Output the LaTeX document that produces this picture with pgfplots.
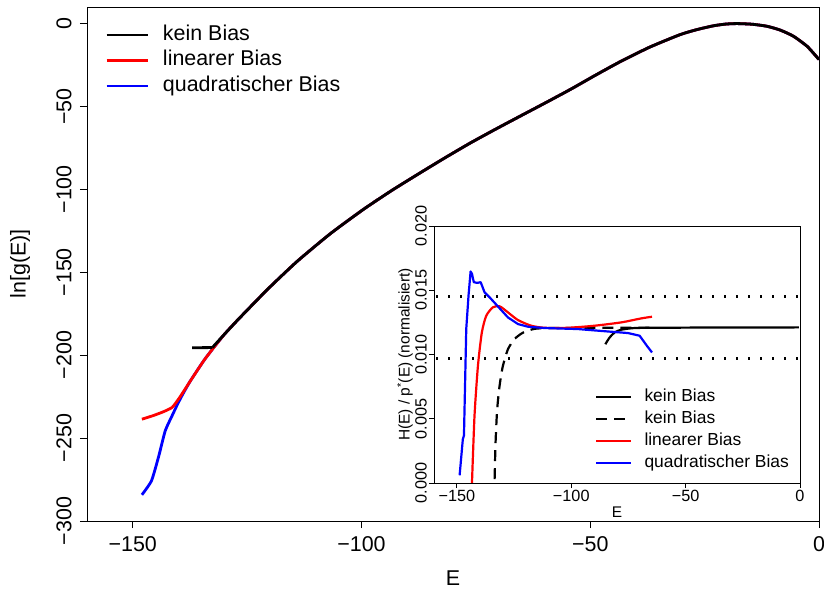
\documentclass[border=0pt]{standalone}
\usepackage{fontspec}
\setmainfont{Liberation Sans}
\usepackage{pgfplots}
\pgfplotsset{compat=1.18}
\definecolor{rred}{RGB}{255,0,0}
\definecolor{rblue}{RGB}{0,0,255}
\newcommand\mainfs{\fontsize{21.5}{25}\selectfont}
\newcommand\insetfs{\fontsize{16.3}{19}\selectfont}
\newcommand\inlegfs{\fontsize{17.5}{20}\selectfont}
\newcommand\inlabfs{\fontsize{15.5}{18}\selectfont}

\begin{document}
\begin{tikzpicture}
\path[use as bounding box] (-87bp,-74bp) rectangle (737bp,521bp);
\begin{axis}[
  at={(0bp,0bp)}, anchor=south west,
  scale only axis, width=732bp, height=514bp,
  xmin=-160, xmax=0, ymin=-300, ymax=10,
  tick align=outside, xtick pos=left, ytick pos=left,
  major tick length=7bp,
  every tick/.style={black, line width=0.9bp},
  axis line style={line width=0.9bp},
  xtick={-150,-100,-50,0}, xticklabels={−150,−100,−50,0},
  ytick={-300,-250,-200,-150,-100,-50,0},
  yticklabels={−300,−250,−200,−150,−100,−50,0},
  ticklabel style={font=\mainfs},
  xticklabel style={yshift=-5bp},
  yticklabel style={rotate=90, anchor=south, yshift=5bp},
  xlabel={E}, ylabel={ln[g(E)]},
  label style={font=\mainfs},
  xlabel style={at={([yshift=-57bp]axis description cs:0.5,0)}, anchor=center},
  ylabel style={at={([xshift=-67bp]axis description cs:0,0.5)}, anchor=center},
  legend cell align=left,
  legend image code/.code={\draw[#1] (0bp,0bp) -- (41bp,0bp);},
  legend style={at={([xshift=18bp,yshift=-15bp]axis description cs:0,1)}, anchor=north west,
    draw=none, fill=none, font=\mainfs, inner xsep=0bp, inner ysep=0bp,
    row sep=0bp, nodes={inner sep=2.5bp, text height=15.5bp, text depth=5bp},
    /tikz/every odd column/.append style={column sep=11.5bp}},
]
\addlegendimage{black, line width=2.8bp}\addlegendentry{kein Bias}
\addlegendimage{rred, line width=2.8bp}\addlegendentry{linearer Bias}
\addlegendimage{rblue, line width=2.8bp}\addlegendentry{quadratischer Bias}
% quadratischer Bias
\addplot[forget plot, rblue, line width=2.8bp, line join=round, smooth, tension=0.35] coordinates {
(-148.0,-284.2) (-145.9,-275.7) (-144.3,-260.7) (-142.9,-245.6) (-141.4,-236.5)
(-140.2,-229.5) (-139.0,-223.2) (-137.4,-215.5) (-134.5,-203.4) (-132.3,-195.4)
(-130.0,-187.5) (-126.9,-178.3) (-120.5,-160.2) (-114.1,-143.5) (-106.8,-126.7)
(-99.5,-111.9) (-93.3,-100.5) (-87.1,-89.9) (-81.6,-80.7) (-76.2,-72.0)
(-70.7,-63.7) (-65.3,-55.8) (-59.8,-47.8) (-54.4,-39.8) (-48.9,-31.2)
(-43.4,-22.9) (-37.0,-14.2) (-30.3,-6.6) (-26.5,-3.5) (-23.0,-1.3) (-20.4,-0.3)
(-17.9,0.0) (-14.6,-0.4) (-11.4,-1.6) (-8.5,-3.9) (-5.6,-7.6) (-2.6,-13.7) (0,-21.7)};
% linearer Bias
\addplot[forget plot, rred, line width=2.8bp, line join=round, smooth, tension=0.35] coordinates {
(-148.0,-238.6) (-145.5,-236.4) (-143.3,-234.1) (-141.4,-231.5) (-140.0,-226.5)
(-138.8,-221.5) (-137.4,-215.5) (-134.5,-203.4) (-132.3,-195.4)
(-130.0,-187.5) (-126.9,-178.3) (-120.5,-160.2) (-114.1,-143.5) (-106.8,-126.7)
(-99.5,-111.9) (-93.3,-100.5) (-87.1,-89.9) (-81.6,-80.7) (-76.2,-72.0)
(-70.7,-63.7) (-65.3,-55.8) (-59.8,-47.8) (-54.4,-39.8) (-48.9,-31.2)
(-43.4,-22.9) (-37.0,-14.2) (-30.3,-6.6) (-26.5,-3.5) (-23.0,-1.3) (-20.4,-0.3)
(-17.9,0.0) (-14.6,-0.4) (-11.4,-1.6) (-8.5,-3.9) (-5.6,-7.6) (-2.6,-13.7) (0,-21.7)};
% kein Bias
\addplot[forget plot, black, line width=2.8bp, line join=round] coordinates {
(-137.0,-195.5) (-132.6,-195.4)};
\addplot[forget plot, black, line width=2.8bp, line join=round, smooth, tension=0.35] coordinates {
(-132.6,-195.4)
(-130.0,-187.5) (-126.9,-178.3) (-120.5,-160.2) (-114.1,-143.5) (-106.8,-126.7)
(-99.5,-111.9) (-93.3,-100.5) (-87.1,-89.9) (-81.6,-80.7) (-76.2,-72.0)
(-70.7,-63.7) (-65.3,-55.8) (-59.8,-47.8) (-54.4,-39.8) (-48.9,-31.2)
(-43.4,-22.9) (-37.0,-14.2) (-30.3,-6.6) (-26.5,-3.5) (-23.0,-1.3) (-20.4,-0.3)
(-17.9,0.0) (-14.6,-0.4) (-11.4,-1.6) (-8.5,-3.9) (-5.6,-7.6) (-2.6,-13.7) (0,-21.7)};
\end{axis}

\begin{axis}[
  at={(347bp,38bp)}, anchor=south west,
  scale only axis, width=366bp, height=257bp,
  xmin=-160, xmax=0, ymin=0, ymax=0.02,
  tick align=outside, xtick pos=left, ytick pos=left,
  major tick length=5bp,
  every tick/.style={black, line width=0.9bp},
  axis line style={line width=0.9bp},
  xtick={-150,-100,-50,0}, xticklabels={−150,−100,−50,0},
  ytick={0,0.005,0.01,0.015,0.02},
  yticklabels={0.000,0.005,0.010,0.015,0.020},
  scaled y ticks=false,
  ticklabel style={font=\insetfs},
  xticklabel style={inner sep=2bp},
  yticklabel style={rotate=90, anchor=south, inner sep=2bp},
  xlabel={E}, ylabel={H(E) / p\textsuperscript{*}(E) (normalisiert)},
  label style={font=\inlabfs},
  xlabel style={at={([yshift=-29bp]axis description cs:0.5,0)}, anchor=center},
  ylabel style={at={([xshift=-29bp]axis description cs:0,0.5)}, anchor=center},
  legend cell align=left,
  legend image code/.code={\draw[#1] (0bp,0bp) -- (35bp,0bp);},
  legend style={at={([xshift=161bp,yshift=-160bp]axis description cs:0,1)}, anchor=north west,
    draw=none, fill=none, font=\inlegfs, inner xsep=0bp, inner ysep=0bp,
    row sep=0bp, nodes={inner sep=2.3bp, text height=13.3bp, text depth=4bp},
    /tikz/every odd column/.append style={column sep=9.7bp}},
]
\addlegendimage{black, line width=2.3bp}\addlegendentry{kein Bias}
\addlegendimage{black, line width=2.3bp, dash pattern=on 11bp off 7bp}\addlegendentry{kein Bias}
\addlegendimage{rred, line width=2.3bp}\addlegendentry{linearer Bias}
\addlegendimage{rblue, line width=2.3bp}\addlegendentry{quadratischer Bias}
% kein Bias (solid)
\addplot[forget plot, black, line width=2.2bp, line join=round, smooth, tension=0.4] coordinates {
(-85.1,0.0108) (-83.2,0.01133) (-81.0,0.01172) (-78.1,0.01193) (-72.3,0.01206)
(-60.6,0.01208) (-40.0,0.01210) (-20.0,0.01210) (-0.5,0.01211)};
% kein Bias (dashed)
\addplot[forget plot, black, line width=2.2bp, dash pattern=on 11bp off 7bp, smooth, tension=0.4] coordinates {
(-133.5,0.0003) (-133.1,0.0031) (-132.4,0.0057) (-131.3,0.0076) (-129.9,0.0091)
(-127.7,0.0104) (-124.8,0.0112) (-121.1,0.0117) (-116.0,0.0120) (-108.7,0.01206)
(-90.0,0.01208) (-65.0,0.01208)};
% linearer Bias
\addplot[forget plot, rred, line width=2.2bp, line join=round, smooth, tension=0.4] coordinates {
(-143.4,0.0) (-142.3,0.0052) (-140.8,0.0091) (-139.1,0.0117) (-137.2,0.0130)
(-134.3,0.01367) (-131.3,0.01375) (-127.7,0.01328) (-123.3,0.01268) (-117.5,0.01224)
(-111.7,0.01208) (-101.4,0.01208) (-89.8,0.01224) (-78.1,0.0125) (-69.4,0.01281)
(-64.7,0.01294)};
% quadratischer Bias
\addplot[forget plot, rblue, line width=2.2bp, line join=round] coordinates {
(-148.8,0.0006) (-147.4,0.0034) (-146.9,0.0037) (-145.9,0.0120) (-144.9,0.0146)
(-144.0,0.01646) (-143.4,0.01628) (-142.6,0.01563) (-141.1,0.01557) (-139.6,0.01563)
(-137.9,0.01484) (-135.7,0.01445) (-132.1,0.01375) (-127.7,0.01289) (-123.3,0.01237)
(-118.9,0.01216) (-111.7,0.01206) (-97.1,0.01198) (-82.5,0.01177) (-75.2,0.01167)
(-70.1,0.01146) (-68.2,0.01099) (-66.7,0.01062) (-64.7,0.01016)};
% reference lines
\addplot[forget plot, black, line width=2.4bp, dash pattern=on 2.4bp off 9.6bp, dash phase=-2bp] coordinates {(-160,0.01452) (0,0.01452)};
\addplot[forget plot, black, line width=2.4bp, dash pattern=on 2.4bp off 9.6bp, dash phase=-2bp] coordinates {(-160,0.00968) (0,0.00968)};
\end{axis}
\end{tikzpicture}
\end{document}
